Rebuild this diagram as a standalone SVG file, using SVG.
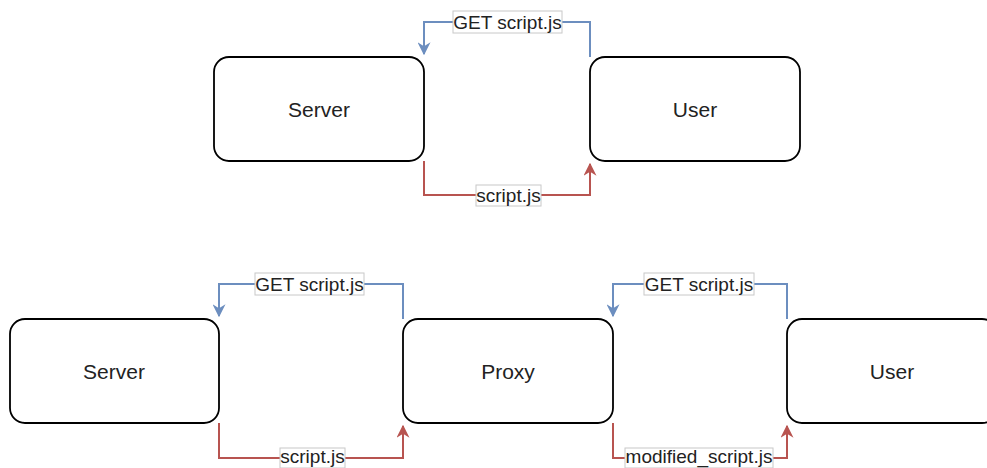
<svg xmlns="http://www.w3.org/2000/svg" width="987" height="468" viewBox="0 0 987 468">
<style>
.node rect{fill:#fff;stroke:#000;stroke-width:1.8}
.node text{font-family:"Liberation Sans",Arial,sans-serif;font-size:21px;fill:#222;text-anchor:middle;dominant-baseline:central}
.blue{fill:none;stroke:#6c8ebf;stroke-width:2}
.red{fill:none;stroke:#b85450;stroke-width:2}
.lbl rect{fill:#fff;stroke:#c8c8c8;stroke-width:1}
.lbl text{font-family:"Liberation Sans",Arial,sans-serif;font-size:19px;fill:#222;text-anchor:middle;dominant-baseline:central}
</style>
<defs>
<marker id="ab" viewBox="0 0 10 10" refX="9" refY="5" markerWidth="6.5" markerHeight="6.5" orient="auto" markerUnits="strokeWidth"><path d="M0,0 L10,5 L0,10 L3,5 Z" fill="#6c8ebf"/></marker>
<marker id="ar" viewBox="0 0 10 10" refX="9" refY="5" markerWidth="6.5" markerHeight="6.5" orient="auto" markerUnits="strokeWidth"><path d="M0,0 L10,5 L0,10 L3,5 Z" fill="#b85450"/></marker>
</defs>
<g id="top-server" class="node"><rect x="214" y="57" width="210" height="104" rx="15"/><text x="319" y="109">Server</text></g>
<g id="top-user" class="node"><rect x="590" y="57" width="210" height="104" rx="15"/><text x="695" y="109">User</text></g>
<g id="bot-server" class="node"><rect x="10" y="319" width="209" height="104" rx="15"/><text x="114" y="371">Server</text></g>
<g id="bot-proxy" class="node"><rect x="403" y="319" width="210" height="104" rx="15"/><text x="508" y="371">Proxy</text></g>
<g id="bot-user" class="node"><rect x="787" y="319" width="210" height="104" rx="15"/><text x="892" y="371">User</text></g>
<g id="connectors">
<path class="blue" d="M590,57 V22 H424 V54" marker-end="url(#ab)"/>
<path class="red" d="M424,161 V195 H590 V164" marker-end="url(#ar)"/>
<path class="blue" d="M403,319 V284 H219 V316" marker-end="url(#ab)"/>
<path class="red" d="M219,423 V458 H403 V426" marker-end="url(#ar)"/>
<path class="blue" d="M787,319 V284 H613 V316" marker-end="url(#ab)"/>
<path class="red" d="M613,423 V458 H787 V426" marker-end="url(#ar)"/>
<g class="lbl"><rect x="453" y="11" width="109" height="22"/><text x="507.5" y="22">GET script.js</text></g>
<g class="lbl"><rect x="476" y="185" width="65" height="21"/><text x="508.5" y="195.5">script.js</text></g>
<g class="lbl"><rect x="255" y="273" width="109" height="22"/><text x="309.5" y="284">GET script.js</text></g>
<g class="lbl"><rect x="280" y="448" width="65" height="20"/><text x="312.5" y="456.5">script.js</text></g>
<g class="lbl"><rect x="644" y="273" width="110" height="22"/><text x="699" y="284">GET script.js</text></g>
<g class="lbl"><rect x="625" y="448" width="148" height="20"/><text x="699" y="456.5">modified_script.js</text></g>
</g>
</svg>
